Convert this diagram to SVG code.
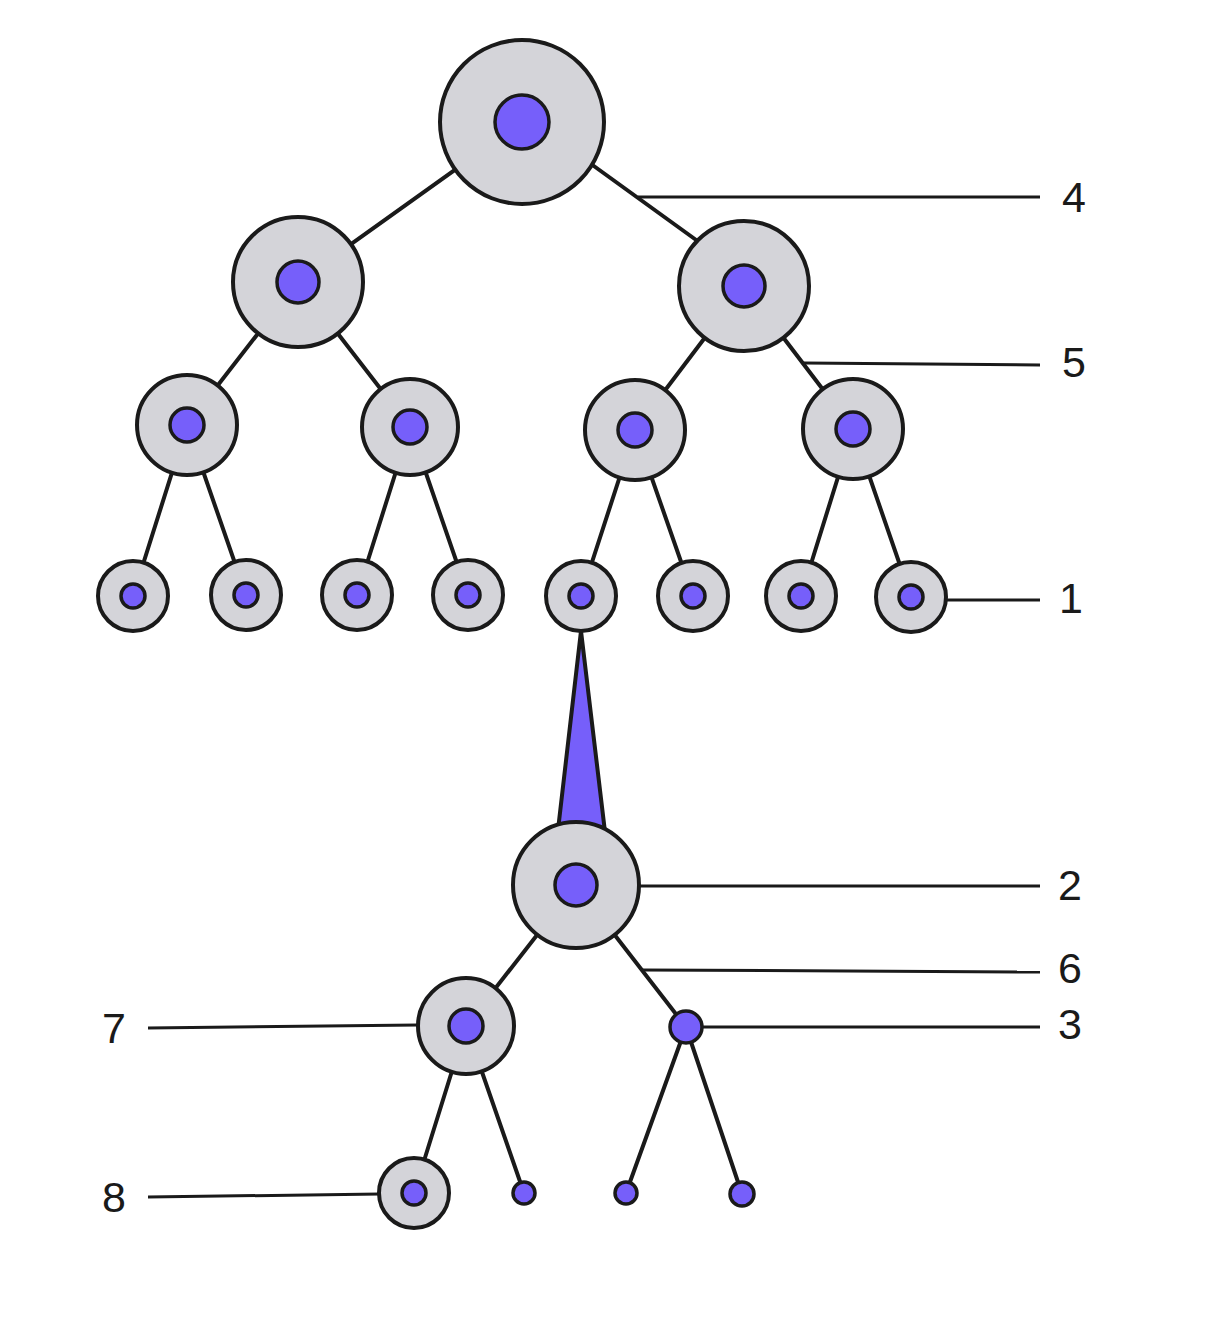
<svg xmlns="http://www.w3.org/2000/svg" width="1219" height="1323" viewBox="0 0 1219 1323">
<style>
.o{fill:#d4d4d9;stroke:#1a1a1a;stroke-width:4}
.i{fill:#765ffa;stroke:#1a1a1a;stroke-width:3.5}
.e{stroke:#1a1a1a;stroke-width:4;fill:none;stroke-linecap:round}
.l{stroke:#1a1a1a;stroke-width:3;fill:none}
.t{font-family:"Liberation Sans",Arial,sans-serif;font-size:43px;fill:#1a1a1a}
</style>
<rect width="1219" height="1323" fill="#fff"/>
<g id="connectors">
<line class="e" x1="522" y1="122" x2="298" y2="282"/>
<line class="e" x1="580" y1="156" x2="710" y2="250"/>
<line class="e" x1="298" y1="282" x2="187" y2="425"/>
<line class="e" x1="298" y1="282" x2="410" y2="427"/>
<line class="e" x1="744" y1="286" x2="635" y2="430"/>
<line class="e" x1="744" y1="286" x2="853" y2="429"/>
<line class="e" x1="187" y1="425" x2="133" y2="596"/>
<line class="e" x1="187" y1="425" x2="246" y2="595"/>
<line class="e" x1="410" y1="427" x2="357" y2="595"/>
<line class="e" x1="410" y1="427" x2="468" y2="595"/>
<line class="e" x1="635" y1="430" x2="581" y2="596"/>
<line class="e" x1="635" y1="430" x2="693" y2="596"/>
<line class="e" x1="853" y1="429" x2="801" y2="596"/>
<line class="e" x1="853" y1="429" x2="911" y2="597"/>
<polygon points="581,631 558,830 605,832" fill="#765ffa" stroke="#1a1a1a" stroke-width="4" stroke-linejoin="round"/>
<line class="e" x1="576" y1="885" x2="466" y2="1026"/>
<line class="e" x1="576" y1="885" x2="686" y2="1027"/>
<line class="e" x1="466" y1="1026" x2="414" y2="1193"/>
<line class="e" x1="466" y1="1026" x2="524" y2="1193"/>
<line class="e" x1="686" y1="1027" x2="626" y2="1193"/>
<line class="e" x1="686" y1="1027" x2="742" y2="1194"/>
<line class="l" x1="638" y1="197" x2="1040" y2="197"/>
<line class="l" x1="804" y1="363" x2="1040" y2="365"/>
<line class="l" x1="947" y1="600" x2="1040" y2="600"/>
<line class="l" x1="640" y1="886" x2="1040" y2="886"/>
<line class="l" x1="643" y1="970" x2="1040" y2="972"/>
<line class="l" x1="702" y1="1027" x2="1040" y2="1027"/>
<line class="l" x1="148" y1="1028" x2="418" y2="1025"/>
<line class="l" x1="148" y1="1197" x2="380" y2="1194"/>
</g>
<g id="n-root"><circle class="o" cx="522" cy="122" r="82"/><circle class="i" cx="522" cy="122" r="27"/></g>
<g id="n-l"><circle class="o" cx="298" cy="282" r="65"/><circle class="i" cx="298" cy="282" r="21"/></g>
<g id="n-r"><circle class="o" cx="744" cy="286" r="65"/><circle class="i" cx="744" cy="286" r="21"/></g>
<g id="n-ll"><circle class="o" cx="187" cy="425" r="50"/><circle class="i" cx="187" cy="425" r="17"/></g>
<g id="n-lr"><circle class="o" cx="410" cy="427" r="48"/><circle class="i" cx="410" cy="427" r="17"/></g>
<g id="n-rl"><circle class="o" cx="635" cy="430" r="50"/><circle class="i" cx="635" cy="430" r="17"/></g>
<g id="n-rr"><circle class="o" cx="853" cy="429" r="50"/><circle class="i" cx="853" cy="429" r="17"/></g>
<g id="leaf1"><circle class="o" cx="133" cy="596" r="35"/><circle class="i" cx="133" cy="596" r="12"/></g>
<g id="leaf2"><circle class="o" cx="246" cy="595" r="35"/><circle class="i" cx="246" cy="595" r="12"/></g>
<g id="leaf3"><circle class="o" cx="357" cy="595" r="35"/><circle class="i" cx="357" cy="595" r="12"/></g>
<g id="leaf4"><circle class="o" cx="468" cy="595" r="35"/><circle class="i" cx="468" cy="595" r="12"/></g>
<g id="leaf5"><circle class="o" cx="581" cy="596" r="35"/><circle class="i" cx="581" cy="596" r="12"/></g>
<g id="leaf6"><circle class="o" cx="693" cy="596" r="35"/><circle class="i" cx="693" cy="596" r="12"/></g>
<g id="leaf7"><circle class="o" cx="801" cy="596" r="35"/><circle class="i" cx="801" cy="596" r="12"/></g>
<g id="leaf8"><circle class="o" cx="911" cy="597" r="35"/><circle class="i" cx="911" cy="597" r="12"/></g>
<g id="n2"><circle class="o" cx="576" cy="885" r="63"/><circle class="i" cx="576" cy="885" r="21"/></g>
<g id="n7"><circle class="o" cx="466" cy="1026" r="48"/><circle class="i" cx="466" cy="1026" r="17"/></g>
<g id="n3"><circle class="i" cx="686" cy="1027" r="16"/></g>
<g id="n8"><circle class="o" cx="414" cy="1193" r="35"/><circle class="i" cx="414" cy="1193" r="12"/></g>
<g id="s1"><circle class="i" cx="524" cy="1193" r="11"/></g>
<g id="s2"><circle class="i" cx="626" cy="1193" r="11"/></g>
<g id="s3"><circle class="i" cx="742" cy="1194" r="12"/></g>
<g id="labels">
<text class="t" x="1062" y="212">4</text>
<text class="t" x="1062" y="377">5</text>
<text class="t" x="1059" y="613">1</text>
<text class="t" x="1058" y="900">2</text>
<text class="t" x="1058" y="983">6</text>
<text class="t" x="1058" y="1039">3</text>
<text class="t" x="102" y="1043">7</text>
<text class="t" x="102" y="1212">8</text>
</g>
</svg>
